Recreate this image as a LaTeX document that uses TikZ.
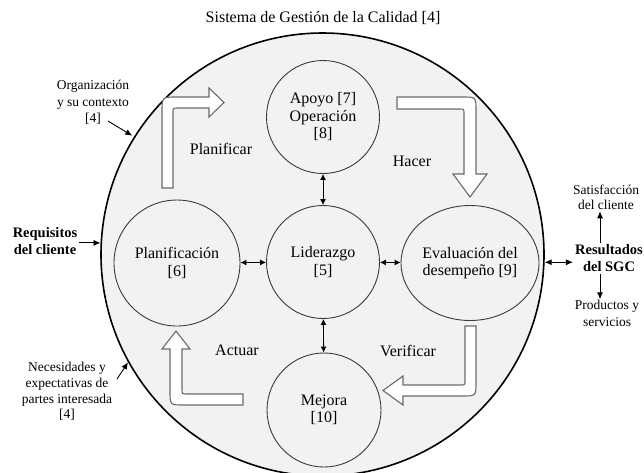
\documentclass[tikz,border=0pt]{standalone}
\usepackage{fontspec}
\setmainfont{Liberation Serif}
\usetikzlibrary{arrows.meta,shapes.geometric}
\definecolor{bgc}{HTML}{F2F2F2}
\definecolor{edgec}{HTML}{3A3A3A}
\definecolor{blockc}{HTML}{6A6A6A}
\tikzset{
  bigcirc/.style={circle,draw=black,line width=1.6pt,fill=bgc,minimum size=443pt,inner sep=0pt},
  inner/.style={circle,draw=edgec,line width=0.9pt,fill=bgc,inner sep=0pt,align=center,font=\fontsize{16}{17.5}\selectfont},
  innerell/.style={ellipse,draw=edgec,line width=0.9pt,fill=bgc,inner sep=0pt,align=center,font=\fontsize{16}{17.5}\selectfont},
  dbl/.style={{Latex[length=6pt,width=6pt]}-{Latex[length=6pt,width=6pt]},line width=0.9pt,black},
  arr/.style={-{Latex[length=7pt,width=6pt]},line width=0.9pt,black},
  blockarrow/.style={draw=blockc,fill=white,line width=1.1pt,line join=miter},
  phase/.style={font=\fontsize{16}{17.5}\selectfont,inner sep=0pt},
  side/.style={font=\fontsize{13.5}{16.5}\selectfont,align=center,inner sep=1pt},
  sidebold/.style={font=\bfseries\fontsize{14.5}{17.5}\selectfont,align=center,inner sep=2pt},
}
\begin{document}
\begin{tikzpicture}[x=1pt,y=-1pt]
\useasboundingbox (0,0) rectangle (644,472);
% title
\node[phase] (title) at (323,18) {Sistema de Gestión de la Calidad [4]};
% main circle
\node[bigcirc] (sgc) at (322.5,254.5) {};
% inner circles
\node[inner,minimum size=113pt] (apoyo) at (323,117) {Apoyo [7]\\Operación\\{[8]}};
\node[inner,minimum size=113pt] (lider) at (323,262) {Liderazgo\\{[5]}};
\node[inner,minimum size=126pt] (plan) at (177,263) {Planificación\\{[6]}};
\node[innerell,minimum width=138pt,minimum height=115pt] (eval) at (470,263) {Evaluación del\\desempeño [9]};
\node[inner,minimum size=114pt] (mejora) at (324,410) {Mejora\\{[10]}};
% double arrows
\draw[dbl] (apoyo) -- (lider);
\draw[dbl] (plan) -- (lider);
\draw[dbl] (lider) -- (eval);
\draw[dbl] (lider) -- (mejora);
% block arrows
\draw[blockarrow] (162,188) -- (162,112) .. controls (162,97) .. (177,97) -- (209,97) -- (209,88) -- (224,102.5) -- (209,117) -- (209,108) -- (178,108) .. controls (173,108) .. (173,113) -- (173,188) -- cycle;
\draw[blockarrow] (397,97) -- (462,97) .. controls (476,97) .. (476,111) -- (476,174) -- (487,174) -- (470,197) -- (453,174) -- (464,174) -- (464,114) .. controls (464,109) .. (459,109) -- (397,109) -- cycle;
\draw[blockarrow] (465,326) -- (476,326) -- (476,382) .. controls (476,396) .. (462,396) -- (403,396) -- (403,405) -- (383,390.5) -- (403,376) -- (403,385) -- (460,385) .. controls (465,385) .. (465,380) -- cycle;
\draw[blockarrow] (243,394) -- (187,394) .. controls (182,394) .. (182,389) -- (182,349) -- (190,349) -- (176,331) -- (162,349) -- (170,349) -- (170,391) .. controls (170,405) .. (184,405) -- (243,405) -- cycle;
% phase labels
\node[phase] (lplan) at (221,149) {Planificar};
\node[phase] (lhacer) at (412,161) {Hacer};
\node[phase] (lactuar) at (237,350) {Actuar};
\node[phase] (lverif) at (408,351) {Verificar};
% side labels
\node[side] (org) at (93,102.5) {Organización\\y su contexto\\{[4]}};
\node[side,font=\fontsize{13.5}{15.7}\selectfont] (nec) at (67,391.5) {Necesidades y\\expectativas de\\partes interesada\\{[4]}};
\node[sidebold] (req) at (45,241) {Requisitos\\del cliente};
\node[side,font=\fontsize{13.5}{15.5}\selectfont] (sat) at (606,197.5) {Satisfacción\\del cliente};
\node[sidebold,font=\bfseries\fontsize{14.5}{17}\selectfont] (res) at (609,258.5) {Resultados\\del SGC};
\node[side] (prod) at (607,313.5) {Productos y\\servicios};
% side arrows
\coordinate (orgtail) at (108,121);
\coordinate (nectail) at (117,379);
\coordinate (ax) at (600,0);
\draw[arr,shorten >=2pt] (orgtail) -- (sgc.148);
\draw[arr] (nectail) -- (sgc.209);
\draw[arr] (req.east |- sgc.177) -- (sgc.177);
\draw[dbl,{Latex[length=7pt,width=6pt]}-{Latex[length=7pt,width=6pt]}] (sgc.-2) -- (sgc.-2 -| res.west);
\draw[arr] (res.north -| ax) -- (sat.south -| ax);
\draw[arr] (res.south -| ax) -- (prod.north -| ax);
\end{tikzpicture}
\end{document}
